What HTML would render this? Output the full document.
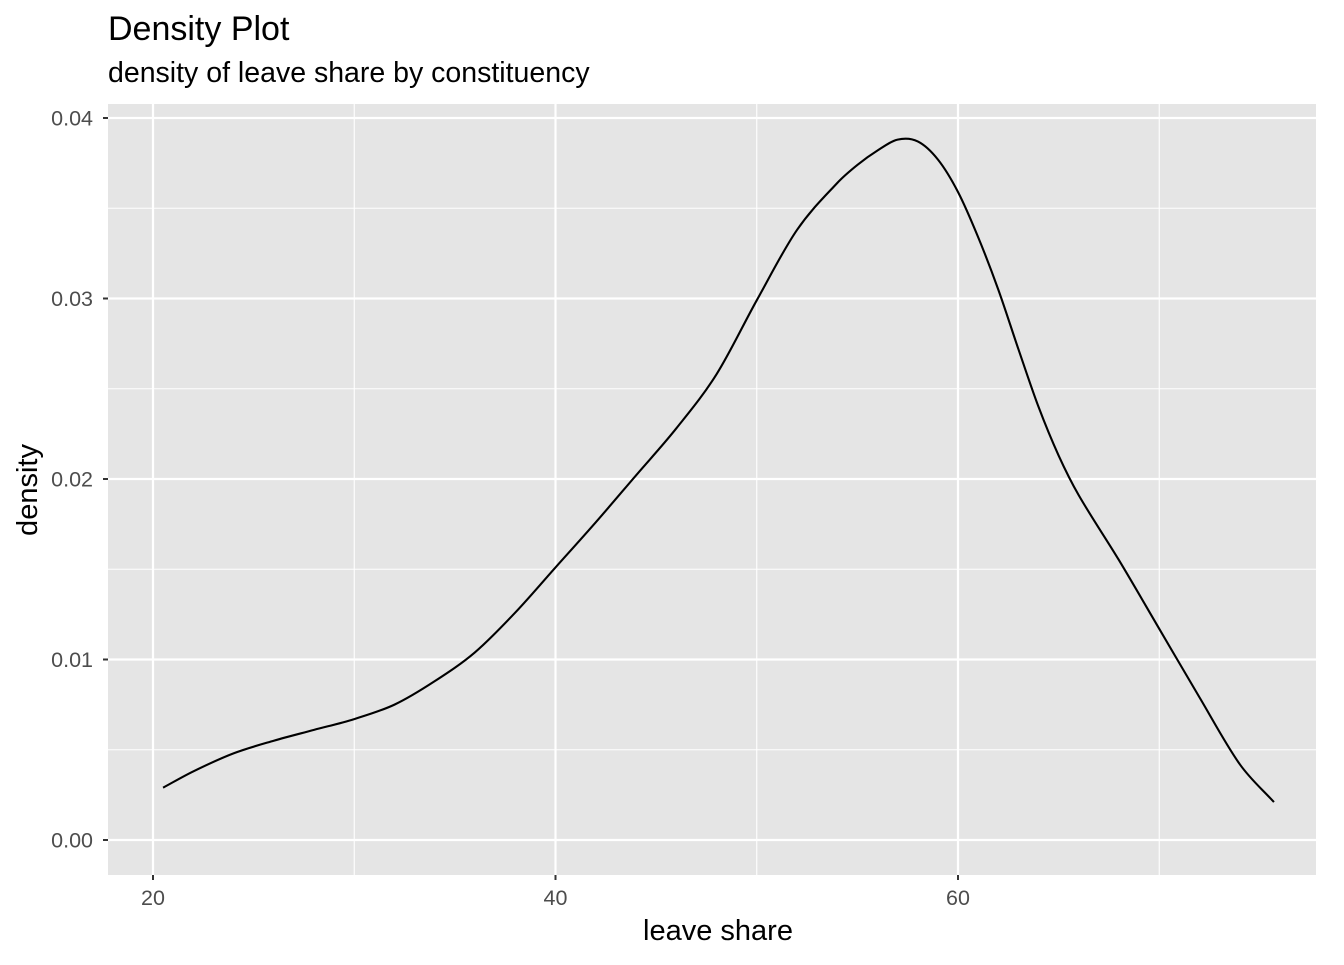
<!DOCTYPE html>
<html><head><meta charset="utf-8"><style>
body{margin:0;background:#fff;font-family:"Liberation Sans",sans-serif}
svg text{font-family:"Liberation Sans",sans-serif}
</style></head><body>
<svg width="1344" height="960">
<text x="108" y="40" font-size="34" fill="#000">Density Plot</text>
<text x="108" y="82" font-size="28.5" fill="#000">density of leave share by constituency</text>
<rect x="108" y="104" width="1208" height="771" fill="#e5e5e5"/>
<g id="grid"></g>
<g id="axes"></g>
<path id="curve" fill="none" stroke="#000" stroke-width="2.1"/>
<text x="718" y="940" font-size="29" text-anchor="middle">leave share</text>
<text transform="translate(37,490) rotate(-90)" font-size="29" text-anchor="middle">density</text>
</svg>
<script>
const xs=[20.5,22,24,26,28,30,32,34,36,38,40,42,44,46,48,50,52,54,55,56,57,58,59,60,61,62,63,64,65,66,68,70,72,74,75.7];
const ys=[0.0029,0.0038,0.0048,0.0055,0.0061,0.0067,0.0075,0.0088,0.0104,0.0126,0.0151,0.0176,0.0202,0.0228,0.0258,0.0299,0.0338,0.0364,0.0374,0.0382,0.0388,0.0387,0.0377,0.0359,0.0334,0.0305,0.0272,0.0240,0.0213,0.0191,0.0155,0.0117,0.0079,0.0042,0.0021];
const xTicks=[20,40,60];
const xMinor=[30,50,70];
const yTicks=[0,0.01,0.02,0.03,0.04];
const yLabels=["0.00","0.01","0.02","0.03","0.04"];
const X=v=>153+(v-20)*(958-153)/40;
const Y=v=>840-v*(840-118)/0.04;
const ns="http://www.w3.org/2000/svg";
const grid=document.getElementById('grid'),axes=document.getElementById('axes');
function line(p,x1,y1,x2,y2,c,w,n){const l=document.createElementNS(ns,'line');l.setAttribute('x1',x1);l.setAttribute('y1',y1);l.setAttribute('x2',x2);l.setAttribute('y2',y2);l.setAttribute('stroke',c);l.setAttribute('stroke-width',w);


p.appendChild(l);}
function text(x,y,s,a,n){const t=document.createElementNS(ns,'text');t.setAttribute('x',x);t.setAttribute('y',y);t.setAttribute('text-anchor',a);t.setAttribute('font-size','21.5');t.setAttribute('fill','#4d4d4d');t.textContent=s;


axes.appendChild(t);}
for(let i=0;i<yTicks.length-1;i++){const m=(yTicks[i]+yTicks[i+1])/2;line(grid,108,Y(m),1316,Y(m),'#fff',1.1,'y-minor-gridline');}
xMinor.forEach(v=>line(grid,X(v),104,X(v),875,'#fff',1.1,'x-minor-gridline'));
yTicks.forEach((v,i)=>{line(grid,108,Y(v),1316,Y(v),'#fff',2.2,'y-gridline');line(axes,103,Y(v),108,Y(v),'#333',2,'y-tick');text(93,Y(v)+7.5,yLabels[i],'end','y-tick-label');});
xTicks.forEach(v=>{line(grid,X(v),104,X(v),875,'#fff',2.2,'x-gridline');line(axes,X(v),875,X(v),880,'#333',2,'x-tick');text(X(v),905,String(v),'middle','x-tick-label');});
const P=xs.map((x,i)=>[X(x),Y(ys[i])]);
let d='M'+P[0][0]+','+P[0][1];
for(let i=0;i<P.length-1;i++){const p0=P[Math.max(0,i-1)],p1=P[i],p2=P[i+1],p3=P[Math.min(P.length-1,i+2)];
const h=p2[0]-p1[0];
const m1=(p2[1]-p0[1])/(p2[0]-p0[0]||1),m2=(p3[1]-p1[1])/(p3[0]-p1[0]||1);
d+=' C'+(p1[0]+h/3)+','+(p1[1]+m1*h/3)+' '+(p2[0]-h/3)+','+(p2[1]-m2*h/3)+' '+p2[0]+','+p2[1];}
document.getElementById('curve').setAttribute('d',d);
</script>
</body></html>
